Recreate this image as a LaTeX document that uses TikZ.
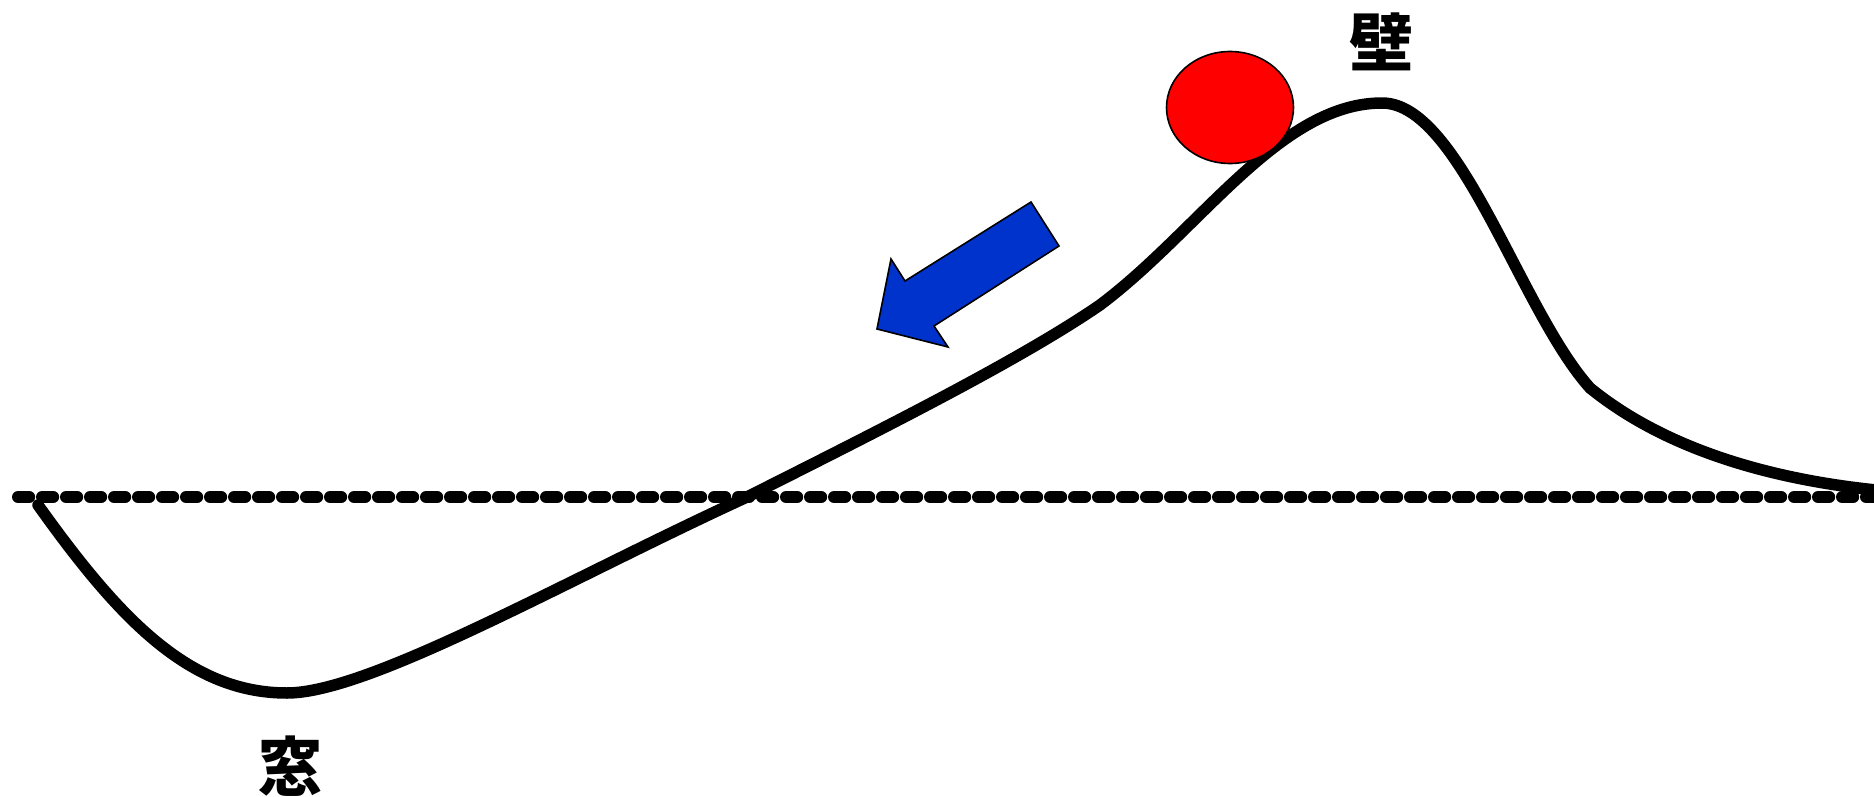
\documentclass[tikz,border=0pt]{standalone}
\usepackage{fontspec}
\newfontfamily\cjk{Noto Sans CJK JP}
\begin{document}
\begin{tikzpicture}[x=0.5pt,y=-0.5pt,
  dashline/.style={line width=6pt,line cap=round,dash pattern=on 5.6pt off 6.4pt},
  hillline/.style={line width=5.75pt,line cap=round,line join=round},
  ballstyle/.style={draw=black,line width=0.8pt,fill=red},
  arrowstyle/.style={draw=black,line width=0.8pt,fill=arrowblue,line join=miter},
  labelstyle/.style={inner sep=0pt,font=\cjk\bfseries\fontsize{32pt}{32pt}\selectfont}]
\definecolor{arrowblue}{RGB}{0,51,204}
\useasboundingbox (0,0) rectangle (1874,797);
\coordinate (dl) at (18,497);
\coordinate (dr) at (1890,497);
\draw[dashline] (dl) -- (dr);
\coordinate (s) at (38,505);
\coordinate (m) at (287,693);
\coordinate (c) at (747,497);
\coordinate (k) at (1100,305);
\coordinate (p) at (1382,103);
\coordinate (b) at (1590,388);
\coordinate (e) at (1876,490);
\draw[hillline] (s) .. controls (120,620) and (190,693) .. (m)
  .. controls (370,693) and (570,578) .. (c)
  .. controls (880,430) and (1020,360) .. (k)
  .. controls (1200,230) and (1280,103) .. (p)
  .. controls (1460,103) and (1520,310) .. (b)
  .. controls (1660,445) and (1760,478) .. (e);
\draw[ballstyle] (1230,107.5) ellipse [x radius=63.5, y radius=56];
\coordinate (a1) at (1031,202);
\coordinate (a2) at (1059,246);
\coordinate (a3) at (934,326);
\coordinate (a4) at (948,347);
\coordinate (a5) at (877,329);
\coordinate (a6) at (891,259);
\coordinate (a7) at (905,281);
\draw[arrowstyle] (a1) -- (a2) -- (a3) -- (a4) -- (a5) -- (a6) -- (a7) -- cycle;
\node[labelstyle] (wall) at (1381,42) {壁};
\node[labelstyle] (window) at (290,766) {窓};
\end{tikzpicture}
\end{document}
